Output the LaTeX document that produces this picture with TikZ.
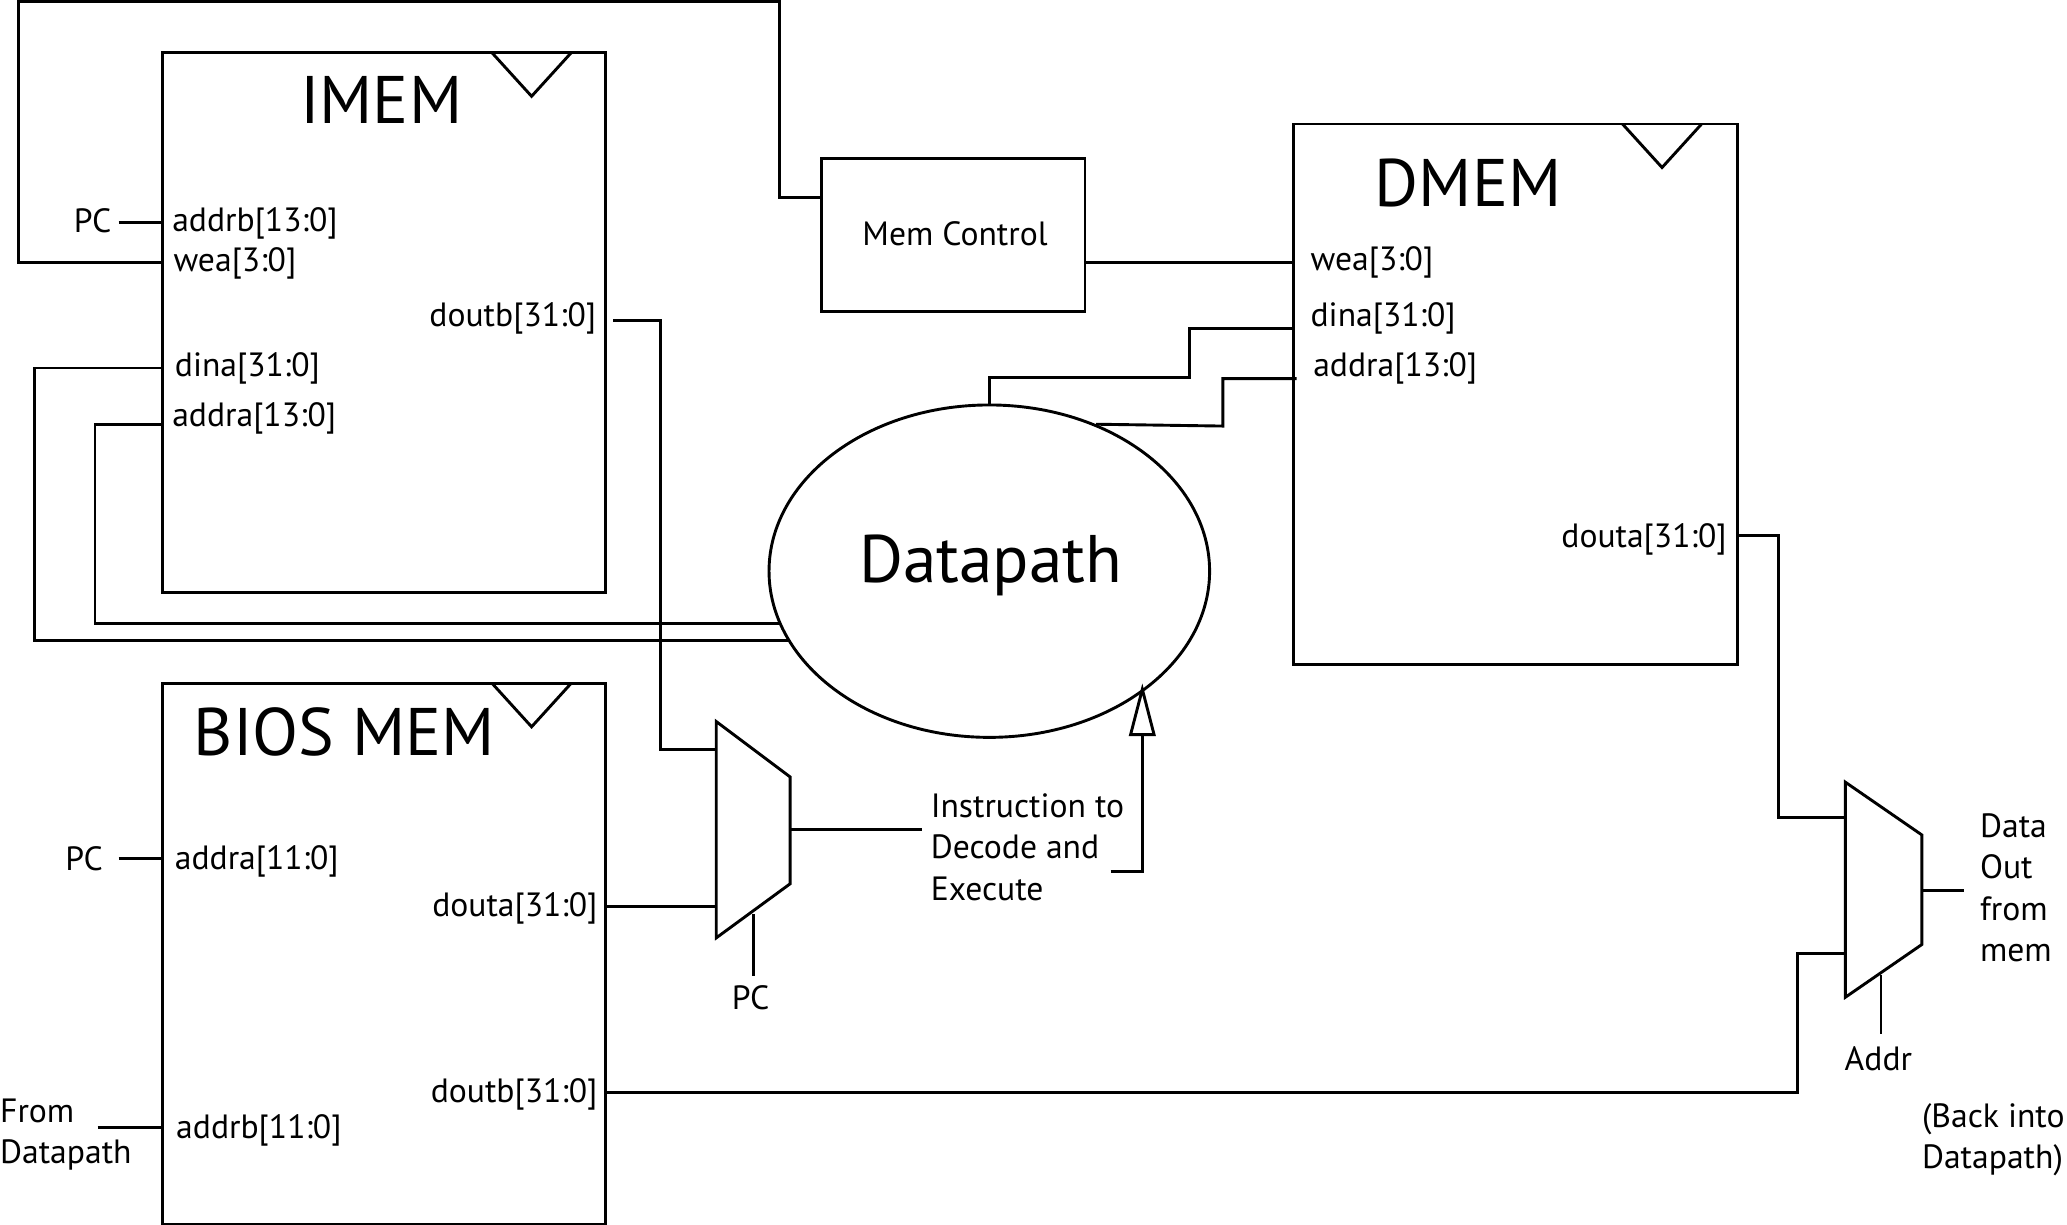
\documentclass[tikz,border=0pt]{standalone}
\usepackage{fontspec}
\setmainfont{PT Sans}
\usetikzlibrary{arrows.meta, positioning, shapes.geometric}
\tikzset{
  memblock/.style={draw, rectangle, minimum width=336pt, minimum height=410pt, inner sep=0pt},
  title/.style={inner sep=0pt, font=\fontsize{51}{60}\selectfont},
  lbl/.style={inner sep=0pt, align=left, font=\fontsize{25.5}{31.5}\selectfont},
}
\begin{document}
\begin{tikzpicture}[x=1pt, y=-1pt, line width=2.2pt]
\useasboundingbox (0,0) rectangle (1567,928);
% memories
\node[memblock] (imem) at (291,244.5) {};
\node[memblock, minimum width=337pt] (dmem) at (1149,299) {};
\node[memblock] (bios) at (291,723) {};
\draw (373,40) -- (403,73) -- (433,40);
\draw (1230,94) -- (1260,127) -- (1290,94);
\draw (373,518) -- (403,551) -- (433,518);
\node[title] (imemname) at (289,76) {IMEM};
\node[title] (dmemname) at (1113,139) {DMEM};
\node[title] (biosname) at (261,555) {BIOS MEM};
\node[draw, minimum width=200pt, minimum height=116pt, inner sep=0pt] (memctl) at (722.5,178) {};
\node[lbl] (memctlname) at (724,177) {Mem Control};
\node[draw, ellipse, minimum width=334pt, minimum height=252pt, inner sep=0pt] (dpath) at (750,433) {};
\node[title] (dpathname) at (751,429) {Datapath};
% muxes
\coordinate (muxa1) at (543,547);
\coordinate (muxa2) at (599,589);
\coordinate (muxa3) at (599,670);
\coordinate (muxa4) at (543,711);
\draw (muxa1) -- (muxa2) -- (muxa3) -- (muxa4) -- cycle;
\coordinate (muxb1) at (1399,593);
\coordinate (muxb2) at (1457,633);
\coordinate (muxb3) at (1457,716);
\coordinate (muxb4) at (1399,756);
\draw (muxb1) -- (muxb2) -- (muxb3) -- (muxb4) -- cycle;
% port labels
\node[lbl, anchor=west] (iaddrb) at (129.5,169) {addrb[13:0]};
\node[lbl, anchor=west] (iwea) at (130.5,200) {wea[3:0]};
\node[lbl, anchor=west] (idina) at (131.5,279) {dina[31:0]};
\node[lbl, anchor=west] (iaddra) at (129.5,317) {addra[13:0]};
\node[lbl, anchor=east] (idoutb) at (453,241) {doutb[31:0]};
\node[lbl, anchor=west] (dwea) at (992.5,199) {wea[3:0]};
\node[lbl, anchor=west] (ddina) at (992.5,241) {dina[31:0]};
\node[lbl, anchor=west] (daddra) at (994.5,279) {addra[13:0]};
\node[lbl, anchor=east] (ddouta) at (1310,409) {douta[31:0]};
\node[lbl, anchor=west] (baddra) at (131.5,653) {addra[11:0]};
\node[lbl, anchor=east] (bdouta) at (454,689) {douta[31:0]};
\node[lbl, anchor=east] (bdoutb) at (454,830) {doutb[31:0]};
\node[lbl, anchor=west] (baddrb) at (132.5,857) {addrb[11:0]};
% outside labels
\node[lbl, anchor=east] (pci) at (85.5,167) {PC};
\node[lbl, anchor=east] (pcb) at (79,651) {PC};
\node[lbl] (pcmux) at (569,756) {PC};
\node[lbl, anchor=west] (fromdp) at (-1,860) {From\\Datapath};
\node[lbl, anchor=west] (instr) at (704.5,642) {Instruction to\\Decode and\\Execute};
\node[lbl, anchor=west] (dataout) at (1500,673) {Data\\Out\\from\\mem};
\node[lbl] (addr) at (1424,803) {Addr};
\node[lbl, anchor=west] (back) at (1456,864) {(Back into\\Datapath)};
% wires
\draw (imem.west |- 0,199) -- (14,199) |- (591,1) |- (memctl.west |- 0,150);
\draw (90,169) -- (imem.west |- 0,169);
\draw (465,243) -| (501,568) -- (muxa1 |- 0,568);
\draw (imem.west |- 0,279) -- (26,279) |- (dpath.199);
\draw (imem.west |- 0,322) -- (72,322) |- (dpath.194);
\draw (memctl.east |- 0,199) -- (dmem.west |- 0,199);
\draw (dpath.north) |- (902,286) |- (dmem.west |- 0,249);
\draw (dpath.54) -- (927,323) |- (983,287);
\draw (dmem.east |- 0,406) -| (1348,620) -- (muxb1 |- 0,620);
\draw (bios.east |- 0,687) -- (muxa1 |- 0,687);
\draw (bios.east |- 0,828) -| (1363,723) -- (muxb1 |- 0,723);
\draw (muxa2 |- 0,629) -- (699,629);
\draw[-{Triangle[open, length=40pt, width=20pt]}] (842,661) -| (866,518);
\draw (571,693) -- (571,740);
\draw (1426,739) -- (1426,784);
\draw (muxb2 |- 0,675) -- (1489,675);
\draw (90,651) -- (bios.west |- 0,651);
\draw (74,855) -- (bios.west |- 0,855);
\end{tikzpicture}
\end{document}
